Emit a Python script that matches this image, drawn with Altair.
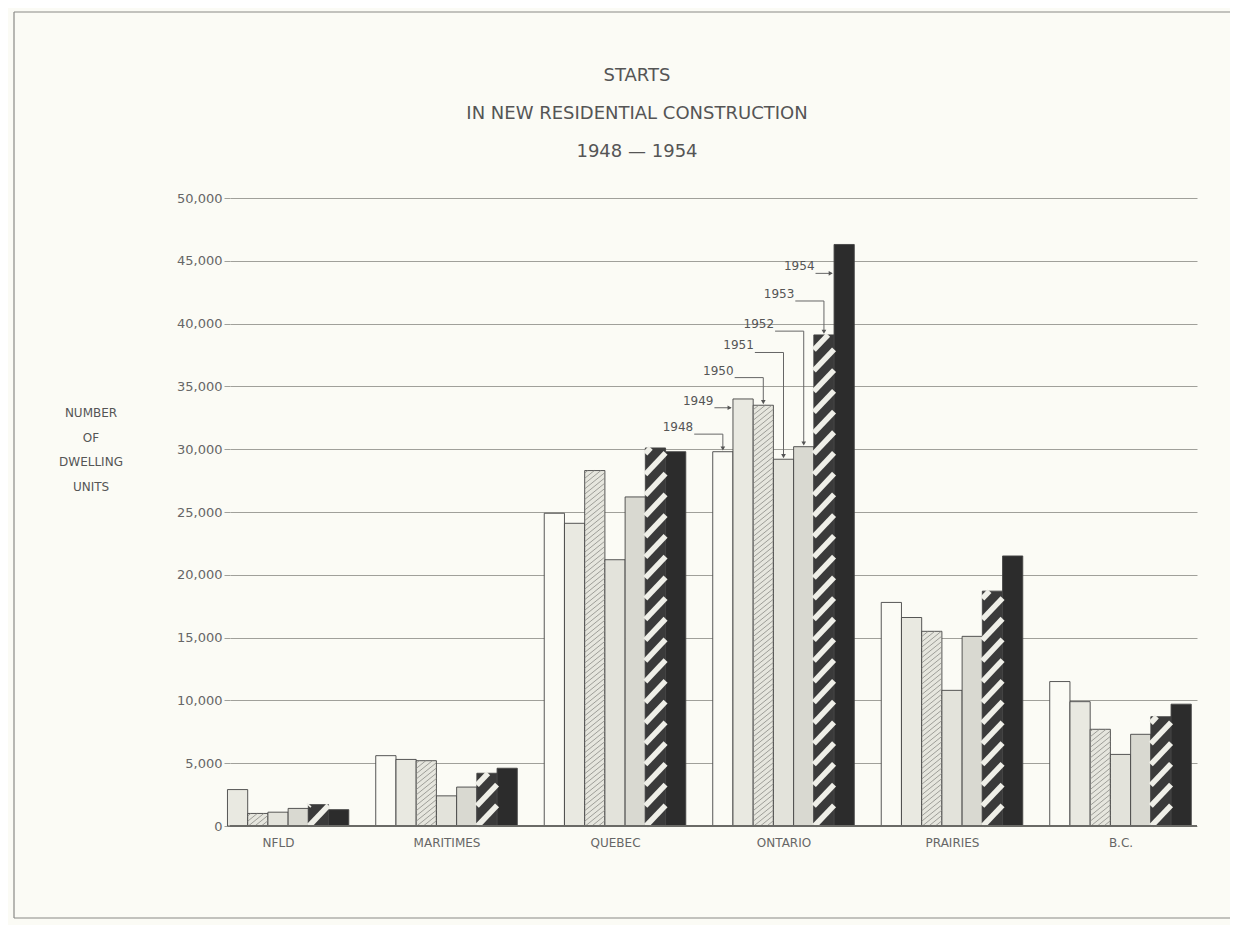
import json
import altair as alt
import pandas as pd

# ---------------- data ----------------
regions = ["NFLD", "MARITIMES", "QUEBEC", "ONTARIO", "PRAIRIES", "B.C."]
years = [1948, 1949, 1950, 1951, 1952, 1953, 1954]

nfld = [None, 2900, 1000, 1100, 1400, 1700, 1300]
maritimes = [5600, 5300, 5200, 2400, 3100, 4200, 4600]
quebec = [24900, 24100, 28300, 21200, 26200, 30100, 29800]
ontario = [29800, 34000, 33500, 29200, 30200, 39100, 46300]
prairies = [17800, 16600, 15500, 10800, 15100, 18700, 21500]
bc = [11500, 9900, 7700, 5700, 7300, 8700, 9700]

y_ticks = [0, 5000, 10000, 15000, 20000, 25000, 30000, 35000, 40000, 45000, 50000]

title_lines = ["STARTS", "IN NEW RESIDENTIAL CONSTRUCTION", "1948 — 1954"]
y_title_lines = ["NUMBER", "OF", "DWELLING", "UNITS"]

# Ontario year call-outs: height (in dwelling units) at which each label sits
ann_label_value = [31200, 33300, 35700, 37700, 39400, 41800, 44000]

# ---------------- styling ----------------
FONT = "DejaVu Sans"
INK = "#555555"
BG = "#fbfbf5"
fills = [BG, "#e9e9e1", "#e6e6de", "#e3e3db", "#d9d9d1", "#3a3a3a", "#2c2c2c"]
bar_w = 0.12          # width of one bar in group units
W, H = 967, 628

series = [nfld, maritimes, quebec, ontario, prairies, bc]
rows = []
for gi, (reg, vals) in enumerate(zip(regions, series)):
    for yi, (yr, v) in enumerate(zip(years, vals)):
        if v is None:
            continue
        rows.append(dict(region=reg, gi=gi, year=str(yr), yi=yi, value=v))
bars = pd.DataFrame(rows)


def hatch(year, rise, step, kind):
    """Diagonal hatch segments clipped to each bar of the given year."""
    yi = years.index(year)
    out = []
    for gi, vals in enumerate(series):
        v = vals[yi]
        if not v:
            continue
        x0 = gi + (yi - 3) * bar_w - bar_w / 2
        s = -rise
        while s < v:
            lo, hi = max(s, 0), min(s + rise, v)
            if hi > lo:
                out.append(dict(kind=kind, xa=x0 + (lo - s) / rise * bar_w, ya=lo,
                                xb=x0 + (hi - s) / rise * bar_w, yb=hi))
            s += step
    return out


bold = pd.DataFrame(hatch(1953, 1700, 1650, "bold"))
fine = pd.DataFrame(hatch(1950, 1300, 420, "fine"))

# leader lines for the Ontario call-outs
gap = 0.17
lead_rows, head_rows, lab_rows = [], [], []
for k, yr in enumerate(years):
    c = 3 + (k - 3) * bar_w
    top = ontario[k]
    lv = ann_label_value[k]
    xe = c - gap
    lab_rows.append(dict(year=str(yr), x=xe, y=lv))
    if lv > top + 600:
        pts = [(xe, lv), (c, lv), (c, top + 250)]
        head_rows.append(dict(year=str(yr), x=c, y=top + 250, shape="triangle-down"))
    else:
        pts = [(xe, lv), (c - bar_w / 2 - 0.012, lv)]
        head_rows.append(dict(year=str(yr), x=c - bar_w / 2 - 0.02, y=lv, shape="triangle-right"))
    for o, (px, py) in enumerate(pts):
        lead_rows.append(dict(year=str(yr), o=o, x=px, y=py))
leads = pd.DataFrame(lead_rows)
heads = pd.DataFrame(head_rows)
labs = pd.DataFrame(lab_rows)

# ---------------- scales & axes ----------------
x_scale = alt.Scale(domain=[-0.285, 5.454], nice=False, zero=False)
y_scale = alt.Scale(domain=[0, 50000], nice=False)
x_axis = alt.Axis(values=list(range(len(regions))),
                  labelExpr=json.dumps(regions) + "[datum.value]",
                  grid=False, ticks=False, domain=False, title=None,
                  labelFontSize=12, labelColor="#666666", labelFont=FONT,
                  labelPadding=11)
y_axis = alt.Axis(values=y_ticks, format=",d", grid=True, gridColor="#a0a09a",
                  gridWidth=1, ticks=True, tickSize=6, tickColor="#a0a09a",
                  domain=False, title=None, labelFontSize=13, labelColor="#666666",
                  labelFont=FONT, labelPadding=2)

one = alt.Data(values=[{}])

bar_layer = alt.Chart(bars).transform_calculate(
    x0="datum.gi + (datum.yi - 3) * %f - %f" % (bar_w, bar_w / 2),
    x1="datum.gi + (datum.yi - 3) * %f + %f" % (bar_w, bar_w / 2),
).mark_rect(stroke="#444444", strokeWidth=0.9).encode(
    x=alt.X("x0:Q", scale=x_scale, axis=x_axis),
    x2="x1:Q",
    y=alt.Y("value:Q", scale=y_scale, axis=y_axis),
    y2=alt.datum(0),
    fill=alt.Fill("year:N", scale=alt.Scale(domain=[str(y) for y in years], range=fills),
                  legend=None),
)

fine_layer = alt.Chart(fine).mark_rule(color="#8c8c86", strokeWidth=0.8).encode(
    x=alt.X("xa:Q", scale=x_scale, axis=x_axis),
    x2="xb:Q",
    y=alt.Y("ya:Q", scale=y_scale, axis=y_axis),
    y2="yb:Q",
)

bold_layer = alt.Chart(bold).mark_rule(color="#efefe8", strokeWidth=5.5).encode(
    x=alt.X("xa:Q", scale=x_scale, axis=x_axis),
    x2="xb:Q",
    y=alt.Y("ya:Q", scale=y_scale, axis=y_axis),
    y2="yb:Q",
)

zero_layer = alt.Chart(one).mark_rule(color="#6a6a66", strokeWidth=2).encode(
    y=alt.YDatum(0, scale=y_scale, axis=y_axis),
)

lead_layer = alt.Chart(leads).mark_line(color="#666666", strokeWidth=1).encode(
    x=alt.X("x:Q", scale=x_scale, axis=x_axis),
    y=alt.Y("y:Q", scale=y_scale, axis=y_axis),
    detail="year:N",
    order="o:O",
)

head_layer = alt.Chart(heads).mark_point(filled=True, color="#555555", size=22, opacity=1).encode(
    x=alt.X("x:Q", scale=x_scale, axis=x_axis),
    y=alt.Y("y:Q", scale=y_scale, axis=y_axis),
    shape=alt.Shape("shape:N", scale=None, legend=None),
)

lab_layer = alt.Chart(labs).mark_text(align="right", baseline="alphabetic", dx=-1, dy=-3,
                                      fontSize=12, font=FONT, color=INK).encode(
    x=alt.X("x:Q", scale=x_scale, axis=x_axis),
    y=alt.Y("y:Q", scale=y_scale, axis=y_axis),
    text="year:N",
)

title_layer = alt.Chart(one).mark_text(align="center", baseline="alphabetic", fontSize=18,
                                       lineHeight=38, font=FONT, color=INK).encode(
    x=alt.value(407), y=alt.value(-117), text=alt.value(title_lines),
)

ytitle_layer = alt.Chart(one).mark_text(align="center", baseline="alphabetic", fontSize=12,
                                        lineHeight=24.5, font=FONT, color=INK).encode(
    x=alt.value(-139), y=alt.value(219), text=alt.value(y_title_lines),
)

frame_top = alt.Chart(one).mark_rule(color="#8a8a86", strokeWidth=1.2).encode(
    x=alt.value(-216), x2=alt.value(1010), y=alt.value(-186))
frame_left = alt.Chart(one).mark_rule(color="#8a8a86", strokeWidth=1.2).encode(
    x=alt.value(-216), y=alt.value(-186), y2=alt.value(720))
frame_bottom = alt.Chart(one).mark_rule(color="#8a8a86", strokeWidth=1.2).encode(
    x=alt.value(-216), x2=alt.value(1010), y=alt.value(720))

chart = alt.layer(
    bar_layer, fine_layer, bold_layer, zero_layer, lead_layer, head_layer, lab_layer,
    title_layer, ytitle_layer, frame_top, frame_left, frame_bottom,
).properties(
    width=W, height=H,
    padding={"left": 222, "top": 190, "right": 33, "bottom": 99},
    autosize=alt.AutoSizeParams(type="none"),
    background=BG,
).configure_view(stroke=None)

chart.save("out.html", embed_options={"renderer": "svg", "actions": False})
